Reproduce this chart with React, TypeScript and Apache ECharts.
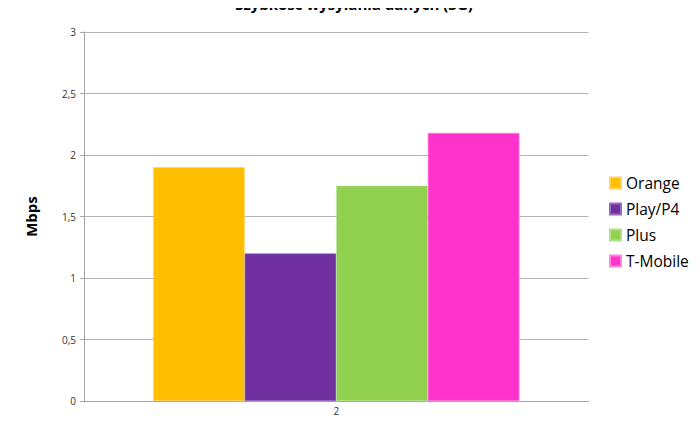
import React, { useEffect, useRef } from "react";
import * as echarts from "echarts";

const categories = ["2"];
const seriesNames = ["Orange", "Play/P4", "Plus", "T-Mobile"];
const orangeValues = [1.9];
const playValues = [1.2];
const plusValues = [1.75];
const tmobileValues = [2.18];
const colors = ["#FFBF00", "#7030A0", "#92D050", "#FF33CC"];
const borderColors = ["#FFD257", "#9A6BBF", "#B3E08A", "#FF85DD"];
const yTicks = { min: 0, max: 3, interval: 0.5 };

const FONT = "'Open Sans', 'Liberation Sans', sans-serif";

export default function App() {
  const ref = useRef<HTMLDivElement>(null);
  useEffect(() => {
    if (!ref.current) return;
    const chart = echarts.init(ref.current, undefined, { renderer: "svg" });
    const allValues = [orangeValues, playValues, plusValues, tmobileValues];
    chart.setOption({
      animation: false,
      backgroundColor: "#ffffff",
      title: {
        text: "Szybkość wysyłania danych (3G)",
        left: 349,
        textAlign: "center",
        top: -9,
        textStyle: { fontFamily: FONT, fontSize: 15, fontWeight: "bold", color: "#000" },
      },
      legend: {
        orient: "vertical",
        left: 604,
        top: 169,
        itemWidth: 11,
        itemHeight: 11,
        itemGap: 8,
        icon: "rect",
        textStyle: { fontFamily: FONT, fontSize: 15.5, color: "#000", lineHeight: 18 },
        data: seriesNames,
      },
      grid: { left: 84, right: 111.5, top: 32, bottom: 40, containLabel: false },
      xAxis: {
        type: "category",
        data: categories,
        axisTick: { show: false },
        axisLine: { lineStyle: { color: "#a6a6a6", width: 1 } },
        axisLabel: { fontFamily: FONT, fontSize: 10, color: "#333", margin: 5 },
      },
      yAxis: {
        type: "value",
        min: yTicks.min,
        max: yTicks.max,
        interval: yTicks.interval,
        name: "Mbps",
        nameLocation: "middle",
        nameRotate: 90,
        nameGap: 46,
        nameTextStyle: { fontFamily: FONT, fontSize: 15, fontWeight: "bold", color: "#000" },
        axisLine: { show: true, lineStyle: { color: "#a6a6a6", width: 1 } },
        axisTick: { show: true, length: 4, lineStyle: { color: "#a6a6a6" } },
        splitLine: { lineStyle: { color: "#b3b3b3", width: 1 } },
        axisLabel: {
          fontFamily: FONT,
          fontSize: 10,
          color: "#333",
          margin: 8,
          formatter: (v: number) => String(v).replace(".", ","),
        },
      },
      series: seriesNames.map((name, i) => ({
        name,
        type: "bar",
        data: allValues[i],
        barGap: "0%",
        barCategoryGap: "27.4%",
        itemStyle: { color: colors[i], borderColor: borderColors[i], borderWidth: 0.6 },
      })),
    });
    return () => chart.dispose();
  }, []);
  return <div ref={ref} style={{ width: 700, height: 441, margin: -8 }} />;
}
